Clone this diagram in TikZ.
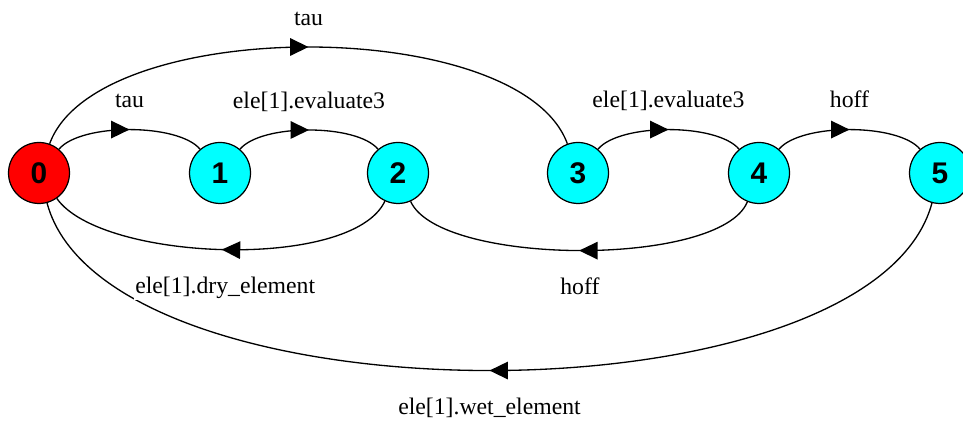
\documentclass[tikz,border=0pt]{standalone}
\usepackage{fontspec}
\setmainfont{Liberation Serif}
\newfontfamily\statefont{Liberation Sans}
\usetikzlibrary{arrows.meta,decorations.markings}
\definecolor{stateRed}{RGB}{255,0,0}
\definecolor{stateCyan}{RGB}{0,255,255}

\begin{document}
\begin{tikzpicture}
		[x=0.02cm,y=0.02cm,
		nodeDecorate/.style={shape=circle,minimum size=1.22cm,inner sep=0pt,draw,line width=0.7pt,
			font=\statefont\bfseries\fontsize{17}{17}\selectfont},%
		lineDecorate/.style={-,line width=0.75pt,postaction={decorate,decoration={markings,
			mark=at position 0.5 with {\arrow{Triangle[length=10.5pt,width=10pt]}}}}},%
		labelDecorate/.style={fill=white,inner sep=1pt,anchor=base,font=\fontsize{13.5}{16}\selectfont},%
		labelUp/.style={labelDecorate,yshift=12.5pt},%
		labelDown/.style={labelDecorate,yshift=-25pt}]
		\useasboundingbox (0,0) rectangle (963,421);
		%% states
		\foreach \nodename/\x/\nodetext/\fillcolor in {
			s0/39/0/stateRed, s1/220/1/stateCyan, s2/398/2/stateCyan,
			s3/578/3/stateCyan, s4/759/4/stateCyan, s5/940/5/stateCyan}
		{
			\node (\nodename) at (\x,248) [nodeDecorate,fill=\fillcolor] {\nodetext};
		}
		%% transitions over the states
		\path
		\foreach \startnode/\endnode/\outangle/\inangle/\loose/\edgelabel in {
			s0/s3/70/110/0.68/{tau},
			s0/s1/50/130/0.62/{tau},
			s1/s2/50/130/0.62/{ele[1].evaluate3},
			s3/s4/50/130/0.62/{ele[1].evaluate3},
			s4/s5/50/130/0.62/{hoff}}
		{
			(\startnode) edge[lineDecorate,out=\outangle,in=\inangle,looseness=\loose]
				node[midway,labelUp] {\edgelabel} (\endnode)
		};
		%% transitions under the states
		\path
		\foreach \startnode/\endnode/\outangle/\inangle/\loose/\edgelabel in {
			s5/s0/-105/-75/0.67/{ele[1].wet\_element},
			s2/s0/-115/-55/0.60/{ele[1].dry\_element},
			s4/s2/-112/-66/0.54/{hoff}}
		{
			(\startnode) edge[lineDecorate,out=\outangle,in=\inangle,looseness=\loose]
				node[midway,labelDown] {\edgelabel} (\endnode)
		};
	\end{tikzpicture}
\end{document}
